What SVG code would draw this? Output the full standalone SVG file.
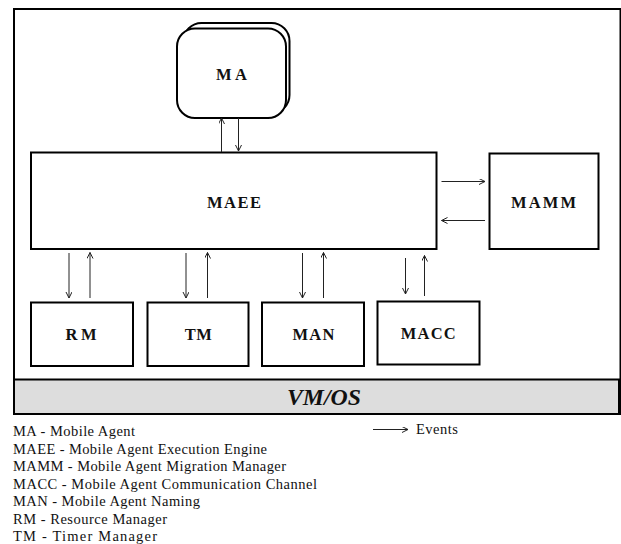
<svg xmlns="http://www.w3.org/2000/svg" width="621" height="544" viewBox="0 0 621 544">
  <style>
    .box { fill: #ffffff; stroke: #000000; stroke-width: 2; }
    .os { fill: #dddddd; stroke: #000000; stroke-width: 2; }
    .lbl { font-weight: bold; font-size: 16.5px; text-anchor: middle; }
    .oslbl { font-weight: bold; font-style: italic; font-size: 23px; text-anchor: middle; }
    .legend { font-size: 14.5px; }
    .conn { stroke: #222; stroke-width: 1; fill: none; marker-end: url(#arrow); }
  </style>
  <defs>
    <marker id="arrow" markerUnits="userSpaceOnUse" markerWidth="8" markerHeight="8" refX="6" refY="3" orient="auto">
      <path d="M0,0 L6,3 L0,6" fill="none" stroke="#222" stroke-width="1"/>
    </marker>
  </defs>

  <rect x="0" y="0" width="621" height="544" fill="#ffffff"/>

  <g font-family="Liberation Serif, Times New Roman, serif" fill="#111">
  <!-- host boundary -->
  <g id="host">
    <rect x="14" y="9" width="606.5" height="405" fill="#ffffff" stroke="#000" stroke-width="2"/>
  </g>

  <!-- VM/OS layer -->
  <g id="vmos">
    <rect class="os" x="14" y="379.5" width="605" height="34.5"/>
    <text class="oslbl" x="324" y="405" textLength="74" lengthAdjust="spacingAndGlyphs">VM/OS</text>
  </g>

  <!-- mobile agent (stacked) -->
  <g id="ma">
    <rect class="box" x="183.5" y="23" width="106" height="90" rx="18" ry="18"/>
    <rect class="box" x="177" y="28.5" width="109" height="89.5" rx="18" ry="18"/>
    <text class="lbl" x="231.5" y="79.5" textLength="31" lengthAdjust="spacing">MA</text>
  </g>

  <g id="maee">
    <rect class="box" x="31" y="152.5" width="405.5" height="96.5"/>
    <text class="lbl" x="234" y="207.5" textLength="54" lengthAdjust="spacing">MAEE</text>
  </g>

  <g id="mamm">
    <rect class="box" x="489.5" y="153.5" width="109" height="95.5"/>
    <text class="lbl" x="543.5" y="207.5" textLength="65" lengthAdjust="spacing">MAMM</text>
  </g>

  <g id="rm">
    <rect class="box" x="31" y="302.5" width="102" height="63.5"/>
    <text class="lbl" x="81" y="340" textLength="31" lengthAdjust="spacing">RM</text>
  </g>

  <g id="tm">
    <rect class="box" x="147.5" y="302.5" width="101" height="63.5"/>
    <text class="lbl" x="198.3" y="340" textLength="27" lengthAdjust="spacing">TM</text>
  </g>

  <g id="man">
    <rect class="box" x="262" y="302.5" width="102" height="63.5"/>
    <text class="lbl" x="313.5" y="340" textLength="42" lengthAdjust="spacing">MAN</text>
  </g>

  <g id="macc">
    <rect class="box" x="377.5" y="301.5" width="102" height="63"/>
    <text class="lbl" x="428.2" y="339" textLength="55" lengthAdjust="spacing">MACC</text>
  </g>

  <!-- event flows -->
  <g id="connectors">
    <line class="conn" x1="221.5" y1="152" x2="221.5" y2="118"/>
    <line class="conn" x1="238.5" y1="118" x2="238.5" y2="151"/>

    <line class="conn" x1="441.5" y1="181.5" x2="485" y2="181.5"/>
    <line class="conn" x1="485" y1="220.5" x2="441.5" y2="220.5"/>

    <line class="conn" x1="69" y1="253" x2="69" y2="298"/>
    <line class="conn" x1="90" y1="298" x2="90" y2="252.5"/>

    <line class="conn" x1="186" y1="253" x2="186" y2="298"/>
    <line class="conn" x1="207.5" y1="298" x2="207.5" y2="252.5"/>

    <line class="conn" x1="302.5" y1="253" x2="302.5" y2="298"/>
    <line class="conn" x1="323.5" y1="298" x2="323.5" y2="252.5"/>

    <line class="conn" x1="405.5" y1="258" x2="405.5" y2="294"/>
    <line class="conn" x1="424.5" y1="296" x2="424.5" y2="255.5"/>
  </g>

  <!-- legend -->
  <g id="legend">
    <line class="conn" x1="373" y1="429.5" x2="408" y2="429.5"/>
    <text class="legend" x="416" y="433.5" textLength="42" lengthAdjust="spacing">Events</text>
    <text class="legend" x="13" y="436" textLength="122" lengthAdjust="spacing">MA - Mobile Agent</text>
    <text class="legend" x="13" y="453.5" textLength="254" lengthAdjust="spacing">MAEE - Mobile Agent Execution Engine</text>
    <text class="legend" x="13" y="471" textLength="273" lengthAdjust="spacing">MAMM - Mobile Agent Migration Manager</text>
    <text class="legend" x="13" y="488.5" textLength="304" lengthAdjust="spacing">MACC - Mobile Agent Communication Channel</text>
    <text class="legend" x="13" y="506" textLength="187" lengthAdjust="spacing">MAN - Mobile Agent Naming</text>
    <text class="legend" x="13" y="523.5" textLength="154" lengthAdjust="spacing">RM - Resource Manager</text>
    <text class="legend" x="13" y="541" textLength="144" lengthAdjust="spacing">TM - Timer Manager</text>
  </g>
  </g>
</svg>
